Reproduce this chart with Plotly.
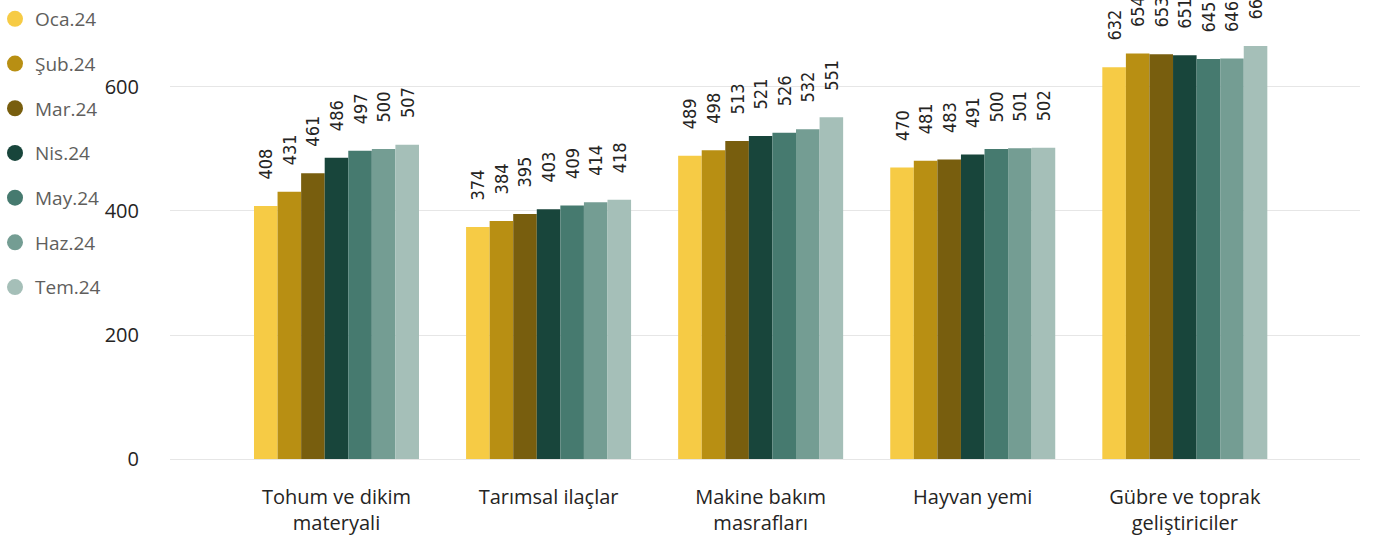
import plotly.graph_objects as go

categories = ["Tohum ve dikim<br>materyali", "Tarımsal ilaçlar", "Makine bakım<br>masrafları",
              "Hayvan yemi", "Gübre ve toprak<br>geliştiriciler"]
months = ["Oca.24", "Şub.24", "Mar.24", "Nis.24", "May.24", "Haz.24", "Tem.24"]

oca = [408, 374, 489, 470, 632]
sub = [431, 384, 498, 481, 654]
mar = [461, 395, 513, 483, 653]
nis = [486, 403, 521, 491, 651]
may = [497, 409, 526, 500, 645]
haz = [500, 414, 532, 501, 646]
tem = [507, 418, 551, 502, 666]

series = [oca, sub, mar, nis, may, haz, tem]
colors = ["#F6CB45", "#B88F13", "#785E0E", "#18453B", "#467A6F", "#749D93", "#A5BFB8"]

fig = go.Figure()

for name, vals, col in zip(months, series, colors):
    fig.add_trace(go.Bar(
        x=categories, y=vals, name=name,
        marker=dict(color=col, line=dict(width=0)),
        # leading spaces lift the rotated label off the bar top
        texttemplate="\u2002\u00a0\u00a0\u00a0%{y}", textposition="outside", textangle=-90,
        textfont=dict(family="DejaVu Sans Condensed", size=18, color="#252423"),
        constraintext="none", cliponaxis=False, showlegend=False,
    ))
    # circle markers for the legend
    fig.add_trace(go.Scatter(
        x=[None], y=[None], mode="markers", name=name,
        marker=dict(color=col, size=16, symbol="circle"),
        legendgroup=name, showlegend=True,
    ))

fig.update_layout(
    width=1375, height=539,
    barmode="group", bargap=0.222, bargroupgap=0,
    plot_bgcolor="white", paper_bgcolor="white",
    font=dict(family="Open Sans", size=20, color="#252423"),
    margin=dict(l=170, r=15, t=0, b=80),
    legend=dict(
        x=-0.143, xanchor="left", y=1.0, yanchor="top",
        font=dict(size=19, color="#605E5C"),
        tracegroupgap=17, itemsizing="trace", itemwidth=30,
        indentation=-5, maxheight=530,
        bgcolor="rgba(0,0,0,0)",
    ),
    xaxis=dict(
        range=[-0.785, 4.826], showgrid=False, zeroline=False,
        tickfont=dict(size=20, color="#252423"), ticks="",
        showline=False, ticklabelstandoff=24,
    ),
    yaxis=dict(
        range=[0, 740.3], tickvals=[0, 200, 400, 600],
        showgrid=True, gridcolor="#E6E6E6", gridwidth=1,
        zeroline=True, zerolinecolor="#E6E6E6", zerolinewidth=1,
        tickfont=dict(size=20, color="#252423"), ticks="",
        ticklabelstandoff=30,
    ),
)

# drop the default page margin so the chart fills the window
fig.write_html(
    "out.html",
    config={"displayModeBar": False},
    post_script="document.body.style.margin='0';",
)
